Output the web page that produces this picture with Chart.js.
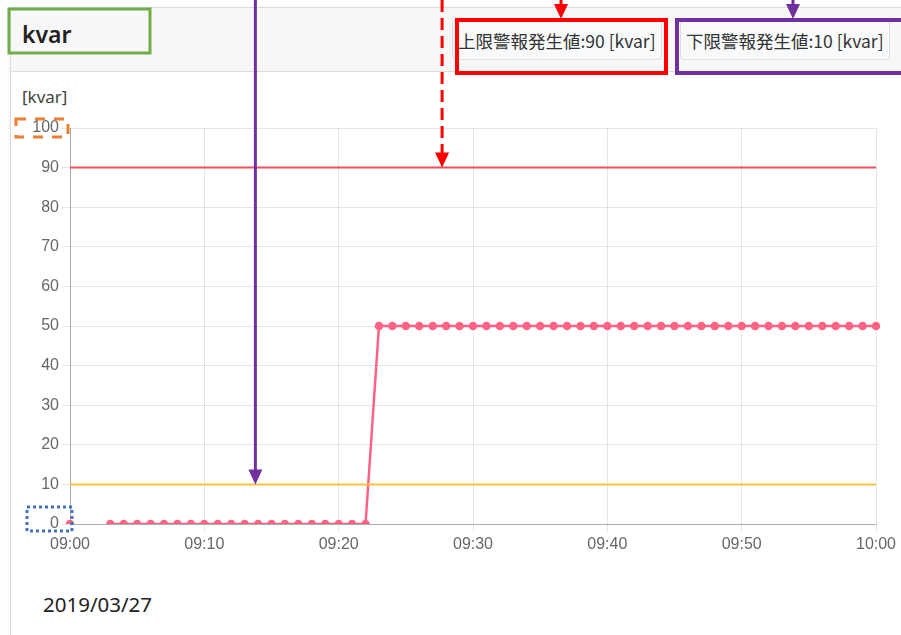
<!DOCTYPE html>
<html lang="ja">
<head>
<meta charset="utf-8">
<script src="https://cdn.jsdelivr.net/npm/chart.js@4"></script>
<style>
  html, body { margin: 0; padding: 0; background: #fff; }
  body { width: 901px; height: 635px; position: relative; overflow: hidden;
         font-family: "Noto Sans", "Noto Sans CJK JP", sans-serif; }
  .panel { position: absolute; left: 10px; top: 7px; width: 920px; height: 660px;
           border: 1px solid #dcdcdc; background: #fff; box-shadow: -1px 0 3px rgba(0,0,0,0.06); }
  .panel-head { height: 63px; background: #f7f7f7; border-bottom: 1px solid #dcdcdc; position: relative; }
  .title { position: absolute; left: 11px; top: 10px; font-size: 23px; font-weight: 600; color: #222; }
  .btn { position: absolute; top: 12px; height: 40px; line-height: 39px; box-sizing: border-box;
         border: 1px solid #dcdcdc; border-radius: 4px; background: #f8f9fa; color: #333;
         font-family: "Noto Sans CJK JP", sans-serif; font-size: 17.5px; padding: 0 5px; white-space: nowrap; }
  #btnUpper { left: 441px; }
  #btnLower { left: 669px; }
  .unit { position: absolute; left: 22px; top: 85px; font-size: 17px; color: #444; }
  .date { position: absolute; left: 43px; top: 590px; font-size: 20.5px; color: #222; }
  #wrap { position: absolute; left: 0; top: 0; width: 901px; height: 635px; z-index: 2; pointer-events: none; }
</style>
</head>
<body>
<div class="panel">
  <div class="panel-head">
    <div class="title">kvar</div>
    <div class="btn" id="btnUpper"></div>
    <div class="btn" id="btnLower"></div>
  </div>
</div>
<div class="unit">[kvar]</div>
<div class="date">2019/03/27</div>
<div id="wrap"><canvas id="graf_kvar"></canvas></div>

<script>
// --- DATOS ---
const unidad = "kvar";
const fecha = "2019/03/27";
const limiteSuperior = 90;
const limiteInferior = 10;

const horas = [
  "09:00","09:01","09:02","09:03","09:04","09:05","09:06","09:07","09:08","09:09",
  "09:10","09:11","09:12","09:13","09:14","09:15","09:16","09:17","09:18","09:19",
  "09:20","09:21","09:22","09:23","09:24","09:25","09:26","09:27","09:28","09:29",
  "09:30","09:31","09:32","09:33","09:34","09:35","09:36","09:37","09:38","09:39",
  "09:40","09:41","09:42","09:43","09:44","09:45","09:46","09:47","09:48","09:49",
  "09:50","09:51","09:52","09:53","09:54","09:55","09:56","09:57","09:58","09:59",
  "10:00"
];

const valoresKvar = [
  0, null, null, 0, 0, 0, 0, 0, 0, 0,
  0, 0, 0, 0, 0, 0, 0, 0, 0, 0,
  0, 0, 0, 50, 50, 50, 50, 50, 50, 50,
  50, 50, 50, 50, 50, 50, 50, 50, 50, 50,
  50, 50, 50, 50, 50, 50, 50, 50, 50, 50,
  50, 50, 50, 50, 50, 50, 50, 50, 50, 50,
  50
];

const marcasY = [0, 10, 20, 30, 40, 50, 60, 70, 80, 90, 100];

document.getElementById("btnUpper").textContent = "上限警報発生値:" + limiteSuperior + " [" + unidad + "]";
document.getElementById("btnLower").textContent = "下限警報発生値:" + limiteInferior + " [" + unidad + "]";

// --- ANOTACIONES (cuadros y flechas) ---
function flecha(ctx, x, y0, y1, color, dash) {
    ctx.save();
    ctx.strokeStyle = color;
    ctx.fillStyle = color;
    ctx.lineWidth = 3;
    ctx.setLineDash(dash || []);
    ctx.beginPath();
    ctx.moveTo(x, y0);
    ctx.lineTo(x, y1 - 12);
    ctx.stroke();
    ctx.setLineDash([]);
    ctx.beginPath();
    ctx.moveTo(x - 7, y1 - 15);
    ctx.lineTo(x + 7, y1 - 15);
    ctx.lineTo(x, y1);
    ctx.closePath();
    ctx.fill();
    ctx.restore();
}

function cuadro(ctx, x, y, w, h, color, ancho, dash) {
    ctx.save();
    ctx.strokeStyle = color;
    ctx.lineWidth = ancho;
    ctx.setLineDash(dash || []);
    ctx.strokeRect(x, y, w, h);
    ctx.restore();
}

const anotaciones = {
    id: "anotaciones",
    afterDraw(chart) {
        const ctx = chart.ctx;
        const sx = chart.scales.x;
        const sy = chart.scales.y;

        cuadro(ctx, 9, 9, 141, 44, "#70ad47", 3);
        cuadro(ctx, 457, 20, 209, 53, "#ff0000", 4);
        cuadro(ctx, 677, 20, 230, 53, "#7030a0", 4);

        flecha(ctx, 561, 0, 19, "#ff0000");
        flecha(ctx, 793, 0, 19, "#7030a0");
        flecha(ctx, sx.getPixelForValue(27.7), 0, sy.getPixelForValue(limiteSuperior), "#ff0000", [12, 6]);
        flecha(ctx, sx.getPixelForValue(13.8), 0, sy.getPixelForValue(limiteInferior), "#7030a0");

        cuadro(ctx, 16, 119, 52, 18, "#ed7d31", 3, [10, 9]);
        cuadro(ctx, 27, 507, 45, 24, "#4472c4", 3, [3, 3]);
    }
};

// --- GRÁFICA ---
let graficaKvar = new Chart(document.getElementById("graf_kvar"), {
    type: "line",
    data: {
        labels: horas,
        datasets: [{
            label: "上限",
            data: [{ x: horas[0], y: limiteSuperior }, { x: horas[horas.length - 1], y: limiteSuperior }],
            borderColor: "rgba(240, 80, 90, 1)",
            borderWidth: 2,
            pointRadius: 0
        }, {
            label: "下限",
            data: [{ x: horas[0], y: limiteInferior }, { x: horas[horas.length - 1], y: limiteInferior }],
            borderColor: "rgba(245, 195, 65, 1)",
            borderWidth: 2,
            pointRadius: 0
        }, {
            label: unidad,
            data: valoresKvar,
            borderColor: "rgba(255, 99, 132, 1)",
            backgroundColor: "rgba(255, 99, 132, 1)",
            borderWidth: 2.5,
            pointRadius: 3,
            spanGaps: false
        }]
    },
    options: {
        responsive: true,
        maintainAspectRatio: false,
        animation: false,
        layout: { padding: { left: 10, right: 25, top: 128, bottom: 0 } },
        plugins: {
            legend: { display: false },
            tooltip: { enabled: false }
        },
        scales: {
            x: {
                ticks: {
                    autoSkip: false,
                    maxRotation: 0,
                    color: "#666",
                    font: { size: 16, family: "'Liberation Sans', sans-serif" },
                    callback: (v, i) => (i % 10 === 0 ? horas[i] : "")
                },
                grid: {
                    color: c => (c.index % 10 === 0 ? "rgba(0,0,0,0.1)" : "transparent"),
                    tickColor: c => (c.index % 10 === 0 ? "rgba(0,0,0,0.1)" : "transparent")
                },
                border: { color: "rgba(0,0,0,0.25)" },
                afterFit: s => { s.height = 111; }
            },
            y: {
                min: marcasY[0],
                max: marcasY[marcasY.length - 1],
                afterBuildTicks: s => { s.ticks = marcasY.map(v => ({ value: v })); },
                ticks: {
                    color: "#666",
                    font: { size: 16, family: "'Liberation Sans', sans-serif" }
                },
                grid: { color: "rgba(0,0,0,0.1)" },
                border: { color: "rgba(0,0,0,0.25)" },
                afterFit: s => { s.width = 60; }
            }
        }
    },
    plugins: [anotaciones]
});
</script>
</body>
</html>
